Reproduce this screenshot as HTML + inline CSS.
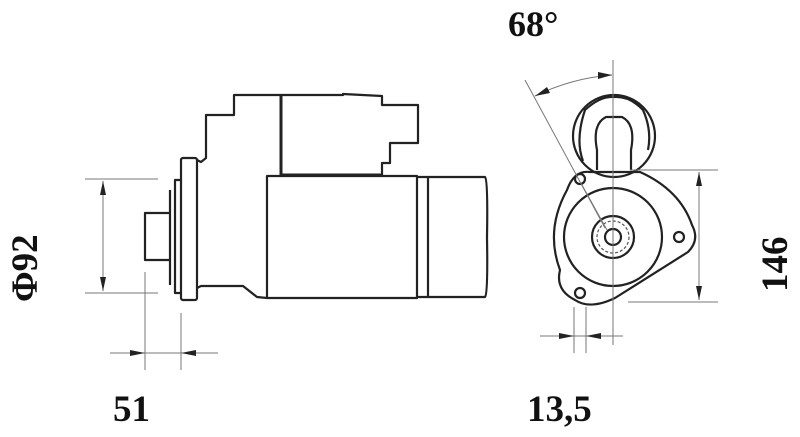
<!DOCTYPE html>
<html><head><meta charset="utf-8"><style>
html,body{margin:0;padding:0;background:#fff;}
svg{display:block}
text{font-family:"Liberation Serif",serif;font-weight:bold;fill:#111}
</style></head><body>
<svg width="800" height="437" viewBox="0 0 800 437" xmlns="http://www.w3.org/2000/svg">
<g fill="none" stroke="#222" stroke-width="2.2" stroke-linejoin="round">
<path d="M281,95 L234,95 L234,115 L206,115 L206,158 L201,162 L197,160"/>
<path d="M281,95 L343,95 L343,94 L382,96 L382,105 L418,105 L418,143 L390,143 L390,163 L382,163 L382,175"/>
<line x1="281" y1="95" x2="281" y2="175" stroke-width="3"/>
<line x1="281" y1="175" x2="382" y2="175" stroke-width="3"/>
<rect x="181" y="158" width="16" height="142" rx="2"/>
<path d="M181,180 L175,180 L175,293 L181,293"/>
<path d="M170,213 L145,213 L145,260 L170,260 M170,190 L170,285"/>
<path d="M197,288 L201,286 L243,286 L257,297 L267,298"/>
<rect x="267" y="176" width="150" height="122"/>
<line x1="428" y1="177" x2="428" y2="297"/>
<path d="M417,177 L485,177 Q488,180 487,237 Q488,294 485,297 L417,297"/>
<circle cx="614" cy="136" r="41"/>
<path d="M597,170 L597,150 Q592,124 606,117 L622,117 Q636,124 631,150 L631,170"/>
<path d="M583,161 Q575,140 585,110 Q600,96 614,97 Q630,96 643,110 Q652,130 648,150"/>
<path d="M567,190 Q574,170 590,172 L640,172 Q680,190 692,225 Q700,240 688,252 L615,298 Q590,310 575,300 Q555,290 560,270 Q545,230 567,190 Z"/>
<circle cx="613" cy="237" r="49"/>
<circle cx="580" cy="179" r="5"/><circle cx="679" cy="237" r="5"/><circle cx="580" cy="293" r="5"/>
<circle cx="613" cy="237" r="21"/>
<circle cx="613" cy="237" r="8"/>
</g>
<g fill="none" stroke="#555" stroke-width="1.2" stroke-dasharray="3,2">
<circle cx="613" cy="237" r="16"/>
</g>
<g fill="none" stroke="#777" stroke-width="1">
<line x1="85" y1="179" x2="158" y2="179"/>
<line x1="85" y1="293" x2="158" y2="293"/>
<line x1="103" y1="181" x2="103" y2="291"/>
<line x1="145" y1="272" x2="145" y2="370"/>
<line x1="181" y1="313" x2="181" y2="370"/>
<line x1="110" y1="353" x2="218" y2="353"/>
<line x1="613" y1="60" x2="613" y2="345"/>
<line x1="525" y1="80" x2="605" y2="228"/>
<path d="M535,96 Q572,78 612,75"/>
<line x1="630" y1="170" x2="718" y2="170"/>
<line x1="628" y1="302" x2="718" y2="302"/>
<line x1="699" y1="172" x2="699" y2="300"/>
<line x1="574" y1="307" x2="574" y2="353"/>
<line x1="586" y1="307" x2="586" y2="353"/>
<line x1="540" y1="336" x2="623" y2="336"/>
<line x1="582" y1="185" x2="607" y2="230"/>
</g>
<g fill="#222">
<polygon points="103,181 100,195 106,195"/>
<polygon points="103,291 100,277 106,277"/>
<polygon points="145,353 130,350 130,356"/>
<polygon points="181,353 196,350 196,356"/>
<polygon points="699,172 696,186 702,186"/>
<polygon points="699,300 696,286 702,286"/>
<polygon points="574,336 559,333 559,339"/>
<polygon points="586,336 601,333 601,339"/>
<polygon points="612,75 598,72 598,79"/>
<polygon points="535,96 547,87 550,93"/>
</g>
<text x="508" y="36" font-size="36">68°</text>
<text x="113" y="421" font-size="37">51</text>
<text x="527" y="421" font-size="37">13,5</text>
<text transform="translate(37,302) rotate(-90)" font-size="37">Φ92</text>
<text transform="translate(787,292) rotate(-90)" font-size="37">146</text>
</svg>
</body></html>
